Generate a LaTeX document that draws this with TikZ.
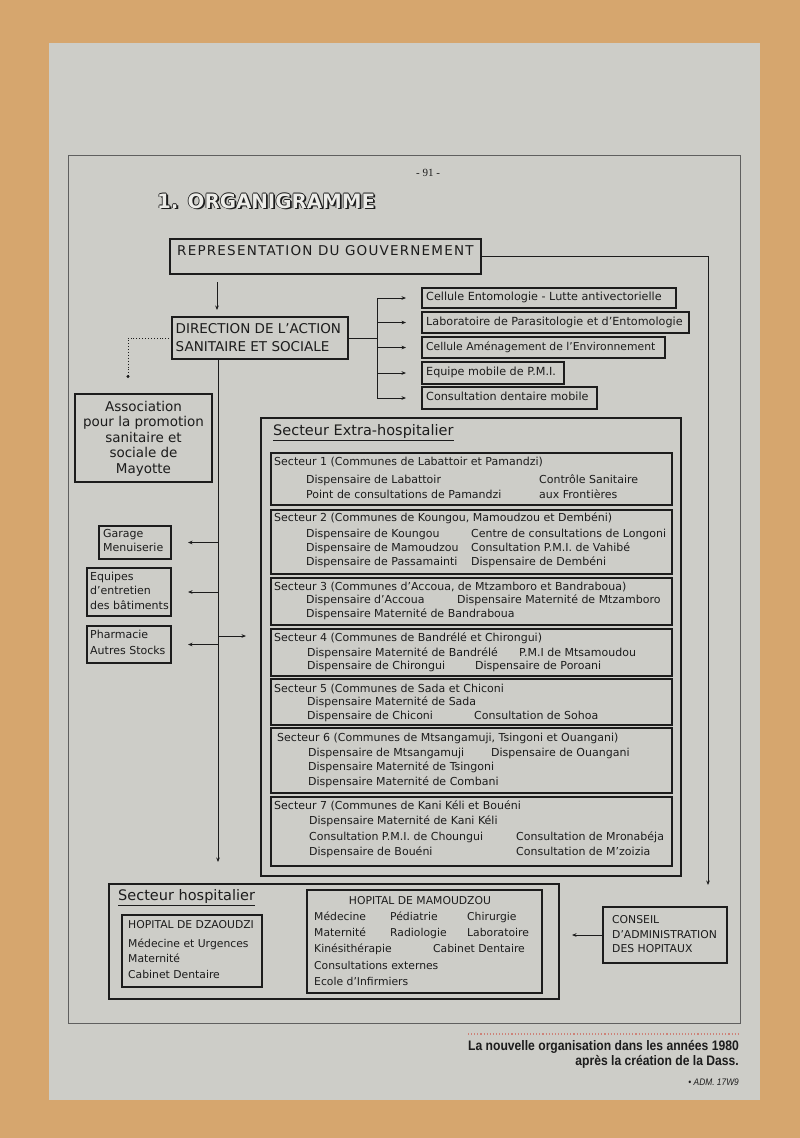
\documentclass[tikz,border=0pt]{standalone}
\usepackage{fontspec}
\setmainfont{DejaVu Sans}
\newfontfamily\capfont[FakeStretch=0.88]{Liberation Sans}
\newfontfamily\seriffont{Liberation Serif}
\newfontfamily\repfont[LetterSpace=9]{DejaVu Sans}
\usetikzlibrary{arrows.meta}
\definecolor{bgorange}{RGB}{214,166,110}
\definecolor{panel}{RGB}{205,205,200}
\definecolor{ink}{RGB}{28,28,28}
\definecolor{framec}{RGB}{95,95,95}
\definecolor{dotc}{RGB}{205,130,120}
\definecolor{titlefill}{RGB}{236,236,232}
\newcommand\shadowtxt[1]{%
\rlap{\kern1.8pt\raisebox{-1.8pt}{\textcolor{ink}{#1}}}%
\rlap{\kern0.75pt\textcolor{ink}{#1}}%
\rlap{\kern-0.75pt\textcolor{ink}{#1}}%
\rlap{\raisebox{0.75pt}{\textcolor{ink}{#1}}}%
\rlap{\raisebox{-0.75pt}{\textcolor{ink}{#1}}}%
\rlap{\kern0.75pt\raisebox{-0.75pt}{\textcolor{ink}{#1}}}%
\textcolor{titlefill}{#1}}
\newcommand\tx[4][]{\node[txt,#1] (#2) at #3 {#4};}
\newcommand\bx[6][]{\node[box,minimum width={#5pt-#3pt},minimum height={#6pt-#4pt},#1] (#2) at (#3,#4) {};}
\tikzset{
 t0/.style={inner sep=0pt, text=ink},
 txt/.style={t0, anchor=west, font=\fontsize{11}{13}\selectfont, text height=8pt, text depth=2.5pt},
 small/.style={font=\fontsize{10.8}{13}\selectfont},
 boxtext/.style={font=\fontsize{11.2}{13}\selectfont},
 box/.style={draw=ink, line width=1.1pt, anchor=north west, inner sep=0pt, outer sep=0pt},
 heavy/.style={line width=2.1pt},
 ln/.style={draw=ink, line width=0.8pt},
 arr/.style={ln, -{Stealth[length=4.5pt,width=3.6pt]}},
}
\begin{document}
\begin{tikzpicture}[x=1pt,y=-1pt]
\useasboundingbox (0,0) rectangle (800,1138);
\fill[bgorange] (0,0) rectangle (800,1138);
\fill[panel] (49,43) rectangle (760,1100);
\draw[framec, line width=0.9pt] (68,155) rectangle (740,1023);

% page number and title
\node[t0, font=\seriffont\fontsize{11}{13}\selectfont] (pg) at (428,173) {- 91 -};
\node[t0, anchor=west, font=\bfseries\fontsize{19.8}{22}\selectfont] (title) at (157,201.5) {\shadowtxt{1. ORGANIGRAMME}};

% top boxes
\bx{rep}{170}{239}{481}{274}
\node[t0, anchor=west, font=\repfont\fontsize{13.5}{16}\selectfont] (reptx) at (177,250.5) {REPRESENTATION DU GOUVERNEMENT};
\bx{dir}{172}{317}{348}{359}
\node[t0, anchor=west, align=left, font=\fontsize{13.5}{18}\selectfont] (dirtx) at (175.5,337.5) {DIRECTION DE L'ACTION\\SANITAIRE ET SOCIALE};

\bx{b1}{422}{288}{676}{308}
\bx{b2}{422}{312}{689}{333}
\bx{b3}{422}{337}{665}{358}
\bx{b4}{422}{362}{564}{384}
\bx{b5}{422}{387}{597}{409}
\tx[boxtext]{b1t}{(426,298)}{Cellule Entomologie - Lutte antivectorielle}
\tx[boxtext]{b2t}{(426,322.5)}{Laboratoire de Parasitologie et d'Entomologie}
\tx[font=\fontsize{10.8}{13}\selectfont]{b3t}{(426,347.5)}{Cellule Aménagement de l'Environnement}
\tx[boxtext]{b4t}{(426,373)}{Equipe mobile de P.M.I.}
\tx[boxtext]{b5t}{(426,398)}{Consultation dentaire mobile}

% connectors at top
\coordinate (dn1) at (217,282);
\coordinate (dn2) at (217,310);
\draw[arr] (dn1) -- (dn2);
\coordinate (rtend) at (708,885);
\draw[arr] (rep.east) -| (rtend);
\coordinate (bus) at (377,0);
\draw[ln] (dir.east) -- (dir.east -| bus);
\draw[ln] (b1.west -| bus) -- (b5.west -| bus);
\foreach \b in {b1,b2,b3,b4,b5} \draw[arr] (\b.west -| bus) -- ([xshift=-16pt]\b.west);
\coordinate (asend) at (128,378);
\draw[ink, dotted, line width=0.9pt, -{Circle[length=3pt]}] (dir.west) -| (asend);

% left column
\bx{assoc}{75}{394}{212}{482}
\node[t0, align=center, font=\fontsize{13.5}{15.6}\selectfont] (assoctx) at (143.5,438.5) {Association\\pour la promotion\\sanitaire et\\sociale de\\Mayotte};
\bx{gar}{99}{526}{171}{559}
\tx{gar1}{(103,534.5)}{Garage}
\tx{gar2}{(103,548.5)}{Menuiserie}
\bx{equ}{87}{568}{171}{616}
\tx{equ1}{(90,577.5)}{Equipes}
\tx{equ2}{(90,591.5)}{d'entretien}
\tx{equ3}{(90,607)}{des bâtiments}
\bx{pha}{87}{626}{171}{663}
\tx{pha1}{(90,636)}{Pharmacie}
\tx{pha2}{(90,652)}{Autres Stocks}

\coordinate (vx) at (218,0);
\coordinate (vbend) at (218,862);
\draw[arr] (dir.south -| vx) -- (vbend);
\draw[arr] (vx |- gar.east) -- ([xshift=17pt]gar.east);
\draw[arr] (vx |- equ.east) -- ([xshift=17pt]equ.east);
\draw[arr] (vx |- pha.east) -- ([xshift=17pt]pha.east);
\coordinate (ph2) at (246,636);
\draw[arr] (vx |- ph2) -- (ph2);

% extra-hospital sector
\bx[heavy]{extra}{261}{418}{681}{876}
\node[t0, anchor=west, font=\fontsize{14.5}{17}\selectfont] (extratx) at (273,432.5) {\underline{Secteur Extra-hospitalier}};

\bx{s1}{271}{453}{672}{505}
\tx{s1h}{(274,462.5)}{Secteur 1 (Communes de Labattoir et Pamandzi)}
\tx{s1a}{(306,481)}{Dispensaire de Labattoir}
\tx{s1b}{(306,496)}{Point de consultations de Pamandzi}
\tx{s1c}{(539,481)}{Contrôle Sanitaire}
\tx{s1d}{(539,496)}{aux Frontières}

\bx{s2}{271}{510}{672}{574}
\tx{s2h}{(274,519)}{Secteur 2 (Communes de Koungou, Mamoudzou et Dembéni)}
\tx{s2a}{(306,535)}{Dispensaire de Koungou}
\tx{s2b}{(306,549)}{Dispensaire de Mamoudzou}
\tx{s2c}{(306,563)}{Dispensaire de Passamainti}
\tx{s2d}{(471,535)}{Centre de consultations de Longoni}
\tx{s2e}{(471,549)}{Consultation P.M.I. de Vahibé}
\tx{s2f}{(471,563)}{Dispensaire de Dembéni}

\bx{s3}{271}{578}{672}{625}
\tx{s3h}{(274,588)}{Secteur 3 (Communes d'Accoua, de Mtzamboro et Bandraboua)}
\tx{s3a}{(306,601)}{Dispensaire d'Accoua}
\tx{s3b}{(457,601)}{Dispensaire Maternité de Mtzamboro}
\tx{s3c}{(306,615)}{Dispensaire Maternité de Bandraboua}

\bx{s4}{271}{629}{672}{676}
\tx{s4h}{(274,639)}{Secteur 4 (Communes de Bandrélé et Chirongui)}
\tx{s4a}{(307,654)}{Dispensaire Maternité de Bandrélé}
\tx{s4b}{(519,654)}{P.M.I de Mtsamoudou}
\tx{s4c}{(307,667)}{Dispensaire de Chirongui}
\tx{s4d}{(475,667)}{Dispensaire de Poroani}

\bx{s5}{271}{679}{672}{725}
\tx{s5h}{(274,690)}{Secteur 5 (Communes de Sada et Chiconi}
\tx{s5a}{(307,703)}{Dispensaire Maternité de Sada}
\tx{s5b}{(307,717)}{Dispensaire de Chiconi}
\tx{s5c}{(474,717)}{Consultation de Sohoa}

\bx{s6}{271}{728}{672}{793}
\tx{s6h}{(277,738.5)}{Secteur 6 (Communes de Mtsangamuji, Tsingoni et Ouangani)}
\tx{s6a}{(308,754)}{Dispensaire de Mtsangamuji}
\tx{s6b}{(491,754)}{Dispensaire de Ouangani}
\tx{s6c}{(308,767.5)}{Dispensaire Maternité de Tsingoni}
\tx{s6d}{(308,783)}{Dispensaire Maternité de Combani}

\bx{s7}{271}{797}{672}{866}
\tx{s7h}{(274,807)}{Secteur 7 (Communes de Kani Kéli et Bouéni}
\tx{s7a}{(309,822)}{Dispensaire Maternité de Kani Kéli}
\tx{s7b}{(309,838)}{Consultation P.M.I. de Choungui}
\tx{s7c}{(516,838)}{Consultation de Mronabéja}
\tx{s7d}{(309,852.5)}{Dispensaire de Bouéni}
\tx{s7e}{(516,852.5)}{Consultation de M'zoizia}

% hospital sector
\bx[heavy]{hosp}{109}{884}{559}{999}
\node[t0, anchor=west, font=\fontsize{14.5}{17}\selectfont] (hosptx) at (118,897.5) {\underline{Secteur hospitalier}};
\bx{dza}{122}{915}{262}{987}
\tx[small]{dza1}{(128,926)}{HOPITAL DE DZAOUDZI}
\tx[small]{dza2}{(128,945)}{Médecine et Urgences}
\tx[small]{dza3}{(128,960)}{Maternité}
\tx[small]{dza4}{(128,975.5)}{Cabinet Dentaire}
\bx{mam}{307}{890}{542}{993}
\node[t0, font=\fontsize{10.8}{13}\selectfont] (mamt) at (420,900.5) {HOPITAL DE MAMOUDZOU};
\tx[small]{m1}{(314,918)}{Médecine}
\tx[small]{m2}{(390,918)}{Pédiatrie}
\tx[small]{m3}{(467,918)}{Chirurgie}
\tx[small]{m4}{(314,934)}{Maternité}
\tx[small]{m5}{(390,934)}{Radiologie}
\tx[small]{m6}{(467,934)}{Laboratoire}
\tx[small]{m7}{(314,950)}{Kinésithérapie}
\tx[small]{m8}{(433,950)}{Cabinet Dentaire}
\tx[small]{m9}{(314,967)}{Consultations externes}
\tx[small]{m10}{(314,983)}{Ecole d'Infirmiers}

\bx{cons}{603}{907}{727}{963}
\node[t0, anchor=west, align=left, font=\fontsize{10.8}{14.5}\selectfont] (constx) at (612,934.5) {CONSEIL\\D'ADMINISTRATION\\DES HOPITAUX};
\draw[arr] (cons.west) -- ([xshift=-31pt]cons.west);

% caption
\coordinate (cl1) at (468,1034);
\coordinate (cl2) at (739,1034);
\draw[dotc, dotted, line width=1.1pt] (cl1) -- (cl2);
\node[t0, anchor=east, font=\capfont\bfseries\fontsize{13.8}{15}\selectfont] (cap1) at (739,1047) {La nouvelle organisation dans les années 1980};
\node[t0, anchor=east, font=\capfont\bfseries\fontsize{13.8}{15}\selectfont] (cap2) at (739,1062) {après la création de la Dass.};
\node[t0, anchor=east, font=\capfont\itshape\fontsize{9.5}{11}\selectfont] (cap3) at (739,1082) {• ADM. 17W9};
\end{tikzpicture}
\end{document}
